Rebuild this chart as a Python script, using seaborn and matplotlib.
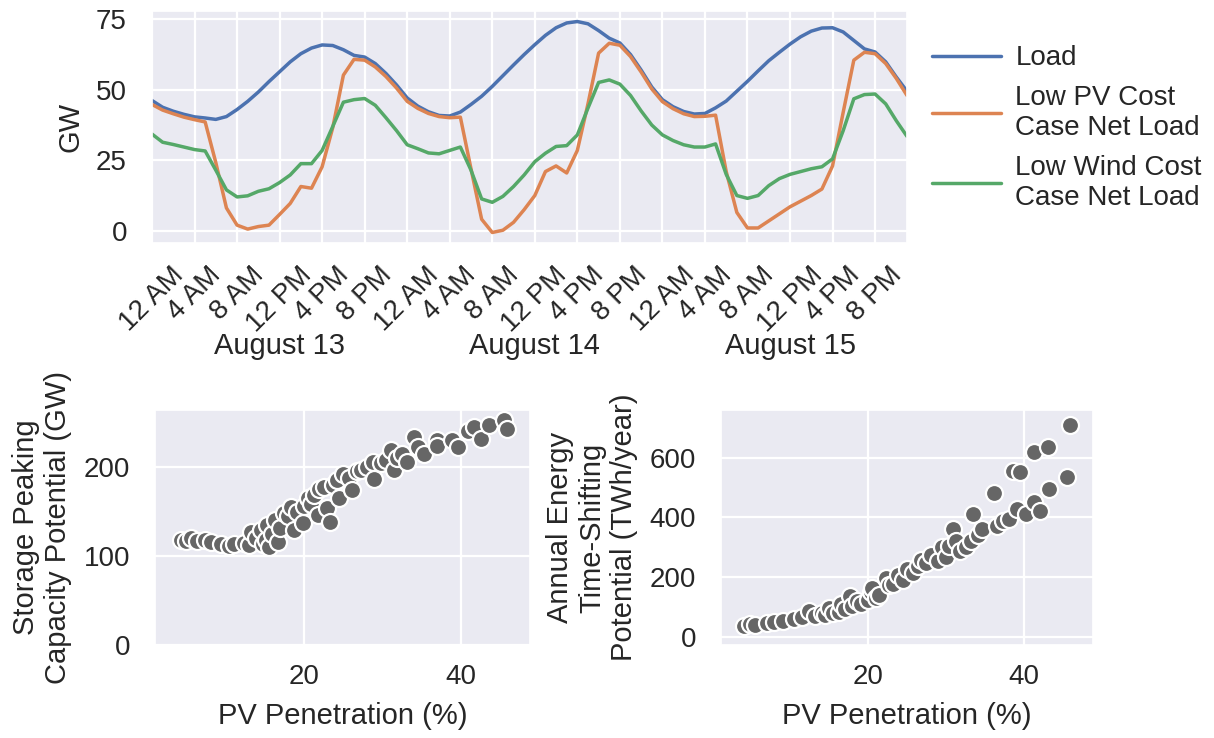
import pandas as pd
import matplotlib.pyplot as plt
import seaborn as sns

# Hourly load and net load, Aug 13-15 (GW)
hours = list(range(72))
load_gw = [46.2, 43.8, 42.4, 41.3, 40.4, 40.0, 39.5, 40.5, 43.0, 45.9, 49.2, 52.9,
           56.4, 59.9, 62.8, 64.8, 65.9, 65.7, 64.2, 62.2, 61.6, 59.3, 55.8, 51.7,
           47.1, 44.2, 42.2, 40.9, 40.7, 42.1, 44.8, 47.7, 51.2, 55.0, 58.8, 62.5,
           66.0, 69.3, 72.0, 73.7, 74.2, 73.4, 71.0, 68.3, 66.6, 62.5, 57.0, 51.0,
           46.5, 44.0, 42.3, 41.4, 41.6, 43.6, 46.0, 49.5, 53.0, 56.7, 60.3, 63.3,
           66.2, 68.8, 70.8, 71.9, 72.0, 70.5, 67.5, 64.5, 63.4, 59.9, 54.5, 49.5]
pv_net_gw = [44.8, 42.8, 41.5, 40.3, 39.4, 38.6, 24.2, 8.1, 2.0, 0.6, 1.5, 2.0,
             5.8, 9.7, 15.7, 15.1, 22.7, 36.6, 55.2, 60.8, 60.5, 58.1, 54.7, 50.6,
             45.9, 43.4, 41.6, 40.5, 40.1, 40.3, 22.0, 4.1, -0.6, 0.2, 3.0, 7.5,
             12.5, 21.0, 23.0, 20.5, 28.5, 45.0, 63.0, 66.5, 65.8, 61.8, 56.3, 50.3,
             45.8, 43.3, 41.5, 40.5, 40.6, 41.0, 21.0, 6.5, 1.0, 1.0, 3.5, 6.0,
             8.5, 10.5, 12.5, 14.8, 23.0, 42.0, 60.5, 63.3, 62.8, 59.3, 54.0, 48.0]
wind_net_gw = [34.3, 31.4, 30.6, 29.7, 28.8, 28.3, 21.5, 14.5, 12.0, 12.4, 14.0, 14.9,
               17.1, 19.8, 23.8, 23.8, 28.5, 37.0, 45.6, 46.5, 46.9, 44.5, 40.1, 35.5,
               30.5, 29.1, 27.6, 27.3, 28.5, 29.7, 21.5, 11.3, 10.1, 12.2, 15.7, 19.8,
               24.5, 27.5, 29.9, 30.2, 34.0, 43.5, 52.6, 53.5, 52.0, 48.0, 42.5, 37.5,
               34.0, 32.0, 30.5, 29.7, 29.7, 30.8, 20.0, 12.5, 11.5, 12.5, 16.0, 18.5,
               20.0, 21.0, 22.0, 22.7, 25.5, 35.5, 46.8, 48.3, 48.5, 45.0, 39.0, 33.5]
series_names = ["Load", "Low PV Cost\nCase Net Load", "Low Wind Cost\nCase Net Load"]

tick_hours = list(range(0, 72, 4))
tick_labels = ["12 AM", "4 AM", "8 AM", "12 PM", "4 PM", "8 PM"] * 3
day_labels = ["August 13", "August 14", "August 15"]
day_centers = [12, 36, 60]

# Storage peaking capacity vs PV penetration
pv_peak = [4.4, 5.0, 5.7, 6.5, 7.4, 8.2, 9.5, 10.5, 11.2, 12.4, 13.0, 13.3, 14.0, 14.6,
           14.8, 15.2, 15.4, 15.6, 16.0, 16.3, 16.7, 17.0, 17.5, 18.0, 18.4, 18.8, 19.2,
           19.9, 20.1, 20.5, 21.0, 21.3, 21.8, 22.0, 22.6, 23.0, 23.3, 23.8, 24.3, 24.5,
           25.0, 25.8, 26.2, 26.8, 27.3, 28.0, 28.8, 29.0, 29.8, 30.5, 31.1, 31.5, 31.9,
           32.5, 33.2, 34.1, 34.5, 35.3, 37.0, 37.0, 38.9, 39.6, 40.9, 41.7, 42.6, 43.6,
           45.5, 45.9]
storage_gw = [118, 117, 120, 117, 118, 116, 113, 111, 113, 115, 112, 127, 120, 129,
              113, 118, 135, 110, 125, 140, 116, 132, 148, 145, 155, 129, 150,
              137, 156, 165, 158, 168, 146, 175, 177, 154, 138, 180, 185, 165,
              192, 188, 174, 195, 197, 200, 206, 187, 204, 208, 219, 197, 210,
              215, 206, 234, 223, 215, 230, 224, 230, 223, 240, 245, 231, 247,
              253, 243]

# Energy time-shifting potential vs PV penetration
pv_shift = [4.0, 4.8, 5.5, 7.0, 7.9, 9.0, 10.5, 11.5, 12.4, 13.2, 14.0, 14.5, 15.0,
            15.5, 16.2, 16.5, 17.0, 17.7, 17.9, 18.5, 19.0, 19.9, 20.3, 20.5, 21.0,
            21.4, 22.2, 22.7, 23.2, 23.8, 24.4, 25.0, 25.7, 26.3, 26.8, 27.4, 28.0,
            28.9, 29.5, 30.0, 30.4, 30.8, 31.2, 31.7, 32.5, 33.2, 33.4, 34.0, 34.6,
            36.1, 36.5, 37.2, 38.0, 39.1, 38.5, 39.4, 40.2, 41.3, 42.0, 41.3, 43.2,
            43.0, 45.5, 45.9]
shift_twh = [36, 42, 39.5, 45, 50.6, 52, 59.7, 65, 86.7, 70, 80, 73, 95,
             78, 84, 110, 92, 135, 103.5, 118, 110, 124, 150, 163, 130,
             141, 197, 174, 175, 208, 191, 228, 214, 238, 258, 247, 275,
             253, 300, 268, 303, 360, 320, 287, 300, 320, 410, 340, 360,
             480, 370, 388, 395, 427, 556, 553, 410, 450, 420, 619, 495,
             635, 535, 710]

FS = 20
sns.set_theme(style="darkgrid", rc={"grid.linewidth": 1.6,
                                    "xtick.major.pad": 8, "ytick.major.pad": 12,
                                    "axes.labelpad": 8})
plt.rcParams["font.family"] = ["Liberation Sans", "DejaVu Sans"]
plt.rcParams["font.size"] = FS

fig = plt.figure(figsize=(12.14, 7.38), dpi=100)
ax_top = fig.add_axes([0.1252, 0.6707, 0.6219, 0.3144])
ax_peak = fig.add_axes([0.1277, 0.126, 0.3089, 0.3184])
ax_shift = fig.add_axes([0.5939, 0.126, 0.3064, 0.3184])

# top: hourly lines
lines_df = pd.DataFrame({
    "hour": hours * 3,
    "GW": load_gw + pv_net_gw + wind_net_gw,
    "series": [series_names[0]] * 72 + [series_names[1]] * 72 + [series_names[2]] * 72,
})
sns.lineplot(data=lines_df, x="hour", y="GW", hue="series",
             palette=["#4C72B0", "#DD8452", "#55A868"], linewidth=2.5, ax=ax_top)
ax_top.set_xlim(0, 71)
ax_top.set_yticks([0, 25, 50, 75])
ax_top.set_xticks(tick_hours)
ax_top.set_xticklabels(tick_labels, rotation=45)
ax_top.set_xlabel("")
ax_top.set_ylabel("GW", fontsize=FS + 1)
ax_top.tick_params(labelsize=FS)
for label, hr in zip(day_labels, day_centers):
    ax_top.text(hr, -0.445, label, transform=ax_top.get_xaxis_transform(),
                ha="center", va="center", fontsize=FS + 1)
ax_top.legend(loc="upper left", bbox_to_anchor=(1.0, 0.96), frameon=False,
              fontsize=FS, handlelength=2.5, handletextpad=0.5, title=None)

# bottom: scatters
sns.scatterplot(x=pv_peak, y=storage_gw, color="#666666", s=150,
                edgecolor="white", linewidth=1.6, ax=ax_peak)
ax_peak.set_xlim(1.1, 48.8)
ax_peak.set_ylim(0, 264)
ax_peak.set_xticks([20, 40])
ax_peak.set_yticks([0, 100, 200])
ax_peak.set_xlabel("PV Penetration (%)", fontsize=FS + 1)
ax_peak.set_ylabel("Storage Peaking\nCapacity Potential (GW)", fontsize=FS + 1)
ax_peak.tick_params(labelsize=FS)

sns.scatterplot(x=pv_shift, y=shift_twh, color="#666666", s=150,
                edgecolor="white", linewidth=1.6, ax=ax_shift)
ax_shift.set_xlim(1.1, 48.8)
ax_shift.set_ylim(-28, 759)
ax_shift.set_xticks([20, 40])
ax_shift.set_yticks([0, 200, 400, 600])
ax_shift.set_xlabel("PV Penetration (%)", fontsize=FS + 1)
ax_shift.set_ylabel("Annual Energy\nTime-Shifting\nPotential (TWh/year)", fontsize=FS + 1)
ax_shift.tick_params(labelsize=FS)

fig.savefig("out.png", dpi=100)
